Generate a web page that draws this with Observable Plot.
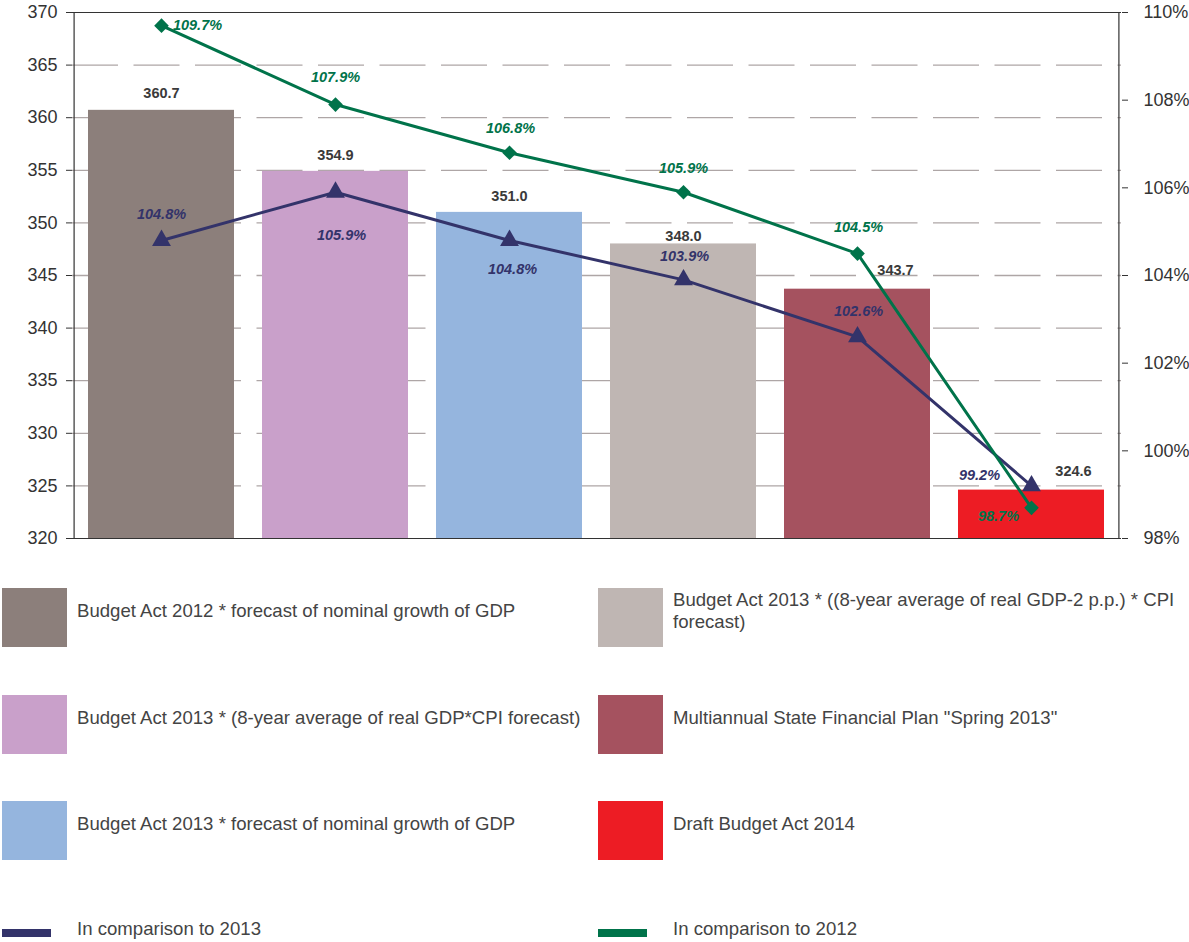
<!DOCTYPE html>
<html><head><meta charset="utf-8">
<script src="https://cdn.jsdelivr.net/npm/d3@7"></script>
<script src="https://cdn.jsdelivr.net/npm/@observablehq/plot@0.6"></script>
<style>
body{margin:0;background:#fff;font-family:"Liberation Sans",Arial,Helvetica,sans-serif;width:1189px;height:942px;position:relative;overflow:hidden}
#chart{position:absolute;left:0;top:0}
#chart svg{overflow:visible}
.sw{position:absolute;width:65px;height:59px}
.lt{position:absolute;font-size:18.6px;color:#444;line-height:22px;display:flex;align-items:center}
.ln{position:absolute;width:49px;height:8px}
</style></head><body><div id="chart"></div><div id="legend"></div>
<script>
// ---- data ----
const categories = [
  "Budget Act 2012 * forecast of nominal growth of GDP",
  "Budget Act 2013 * (8-year average of real GDP*CPI forecast)",
  "Budget Act 2013 * forecast of nominal growth of GDP",
  "Budget Act 2013 * ((8-year average of real GDP-2 p.p.) * CPI forecast)",
  "Multiannual State Financial Plan \"Spring 2013\"",
  "Draft Budget Act 2014"
];
const values = [360.7, 354.9, 351.0, 348.0, 343.7, 324.6];
const vs2013 = [104.8, 105.9, 104.8, 103.9, 102.6, 99.2];
const vs2012 = [109.7, 107.9, 106.8, 105.9, 104.5, 98.7];
const leftTicks = [320, 325, 330, 335, 340, 345, 350, 355, 360, 365, 370];
const rightTicks = [98, 100, 102, 104, 106, 108, 110];
const lineNames = ["In comparison to 2013", "In comparison to 2012"];

// ---- styles ----
const barColors = ["#8c7f7b", "#c9a0ca", "#95b5de", "#bfb6b3", "#a5525f", "#ed1c24"];
const navy = "#33336a", green = "#00734a";
// label offsets [dx, dy]
const barLabelOff = [[0,-17],[0,-16],[0,-16],[0,-8],[38,-19],[42,-19]];
const navyLabelOff = [[0,-26],[6,43],[3,29],[1,-24],[1,-26],[-52,-11]];
const greenLabelOff = [[36,0],[0,-27],[1,-24],[0,-24],[1,-26],[-33,9]];

// right (percent) axis mapped onto left scale domain
const yMin = 320, yMax = 370, pMin = 98, pMax = 110;
const pToY = p => yMin + (p - pMin) * (yMax - yMin) / (pMax - pMin);
const yToP = y => pMin + (y - yMin) * (pMax - pMin) / (yMax - yMin);

const bars = categories.map((c, i) => ({cat: c, v: values[i], color: barColors[i]}));
const l13 = categories.map((c, i) => ({cat: c, p: vs2013[i]}));
const l12 = categories.map((c, i) => ({cat: c, p: vs2012[i]}));

const font = "Liberation Sans, Arial, Helvetica, sans-serif";
const marks = [
  Plot.ruleY(leftTicks.filter(t => t > yMin && t < yMax), {stroke: "#aea6a6", strokeWidth: 1.3, strokeDasharray: "46,15.5"}),
  Plot.barY(bars, {x: "cat", y1: yMin, y2: "v", fill: "color"}),
  Plot.ruleY([yMin, yMax], {stroke: "#333", strokeWidth: 1.2}),
  Plot.ruleX([categories[0]], {y1: yMin, y2: yMax, stroke: "#333", strokeWidth: 1.2, dx: -87.4}),
  Plot.axisY({anchor: "left", ticks: leftTicks, tickSize: 6, tickPadding: 9, fontSize: 18, label: null, stroke: "#333"}),
  Plot.axisY({anchor: "right", ticks: rightTicks.map(pToY), tickFormat: v => Math.round(yToP(v)) + "%", tickSize: 6, tickPadding: 16, fontSize: 18, label: null}),
  Plot.ruleX([categories[5]], {y1: yMin, y2: yMax, stroke: "#333", strokeWidth: 1.2, dx: 87.4}),
  Plot.line(l13, {x: "cat", y: d => pToY(d.p), stroke: navy, strokeWidth: 3}),
  Plot.line(l12, {x: "cat", y: d => pToY(d.p), stroke: green, strokeWidth: 3}),
  Plot.dot(l13, {x: "cat", y: d => pToY(d.p), symbol: "triangle", r: 7, fill: navy}),
  Plot.dot(l12, {x: "cat", y: d => pToY(d.p), symbol: "diamond2", r: 6.6, fill: green}),
  ...bars.map((d, i) => Plot.text([d], {x: "cat", y: "v", text: d => d.v.toFixed(1), dx: barLabelOff[i][0], dy: barLabelOff[i][1], fontSize: 14.5, fontWeight: "bold", fill: "#3a3a3a"})),
  ...l13.map((d, i) => Plot.text([d], {x: "cat", y: d => pToY(d.p), text: d => d.p.toFixed(1) + "%", dx: navyLabelOff[i][0], dy: navyLabelOff[i][1], fontSize: 14.5, fontWeight: "bold", fontStyle: "italic", fill: navy})),
  ...l12.map((d, i) => Plot.text([d], {x: "cat", y: d => pToY(d.p), text: d => d.p.toFixed(1) + "%", dx: greenLabelOff[i][0], dy: greenLabelOff[i][1], fontSize: 14.5, fontWeight: "bold", fontStyle: "italic", fill: green}))
];

const chart = Plot.plot({
  width: 1189, height: 560,
  marginLeft: 72, marginRight: 68, marginTop: 12, marginBottom: 22,
  style: {fontFamily: font, color: "#333", background: "#fff", overflow: "visible"},
  x: {domain: categories, paddingInner: 0.16, paddingOuter: 0.08, axis: null},
  y: {domain: [yMin, yMax], axis: null},
  marks
});
document.getElementById("chart").appendChild(chart);

// ---- legend ----
const leg = document.getElementById("legend");
const cols = [2, 598], rows = [588, 695, 801];
categories.forEach((c, i) => {
  const col = Math.floor(i / 3), row = i % 3;
  const sw = document.createElement("div");
  sw.className = "sw";
  sw.style.left = cols[col] + "px"; sw.style.top = rows[row] + "px";
  sw.style.background = barColors[i];
  leg.appendChild(sw);
  const t = document.createElement("div");
  t.className = "lt";
  t.style.left = (cols[col] + 75) + "px"; t.style.top = rows[row] + "px";
  t.style.height = "45px"; t.style.width = "512px";
  t.textContent = c;
  leg.appendChild(t);
});
[navy, green].forEach((col, i) => {
  const b = document.createElement("div");
  b.className = "ln";
  b.style.left = cols[i] + "px"; b.style.top = "929px"; b.style.background = col;
  leg.appendChild(b);
  const t = document.createElement("div");
  t.className = "lt";
  t.style.left = (cols[i] + 75) + "px"; t.style.top = "918px"; t.style.height = "22px";
  t.textContent = lineNames[i];
  leg.appendChild(t);
});
</script></body></html>
